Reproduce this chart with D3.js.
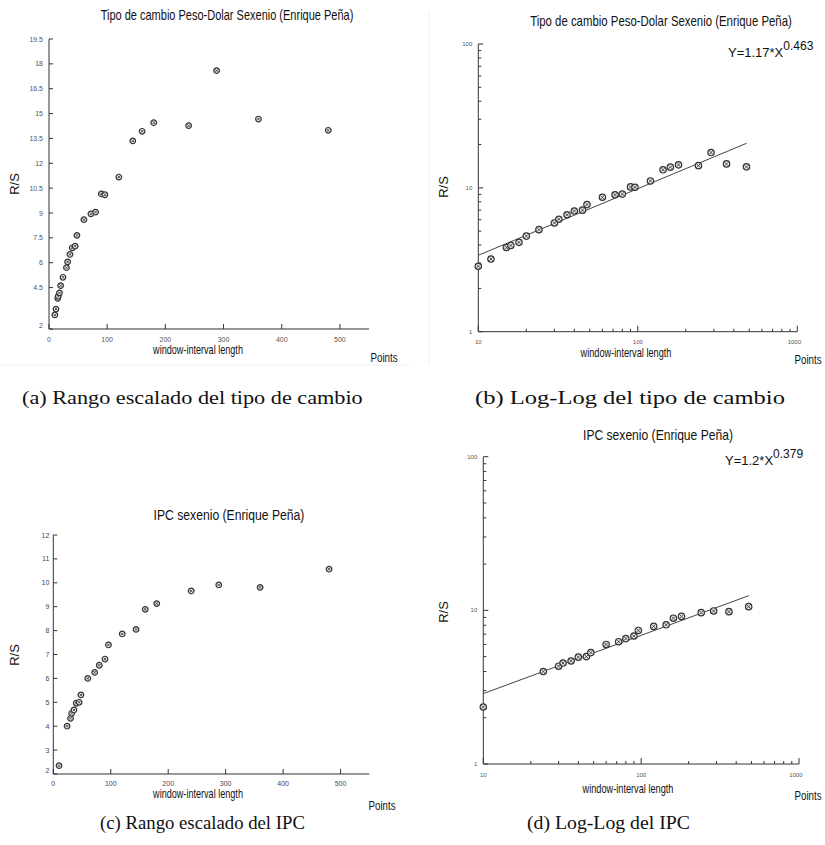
<!DOCTYPE html>
<html>
<head>
<meta charset="utf-8">
<script src="https://cdn.jsdelivr.net/npm/d3@7"></script>
<style>
  body { margin: 0; background: #fff; }
  svg { display: block; }
  text { font-family: "Liberation Sans", Arial, sans-serif; }
  text.cap { font-family: "Liberation Serif", "DejaVu Serif", serif; }
</style>
</head>
<body>
<svg id="chart" width="825" height="845"></svg>
<script>
'use strict';

// window sizes (n) and R/S values
var windowPeso = [10, 12, 15, 16, 18, 20, 24, 30, 32, 36, 40, 45, 48, 60, 72, 80, 90, 96, 120, 144, 160, 180, 240, 288, 360, 480];
var rsPeso = [2.85, 3.2, 3.85, 3.98, 4.18, 4.62, 5.12, 5.7, 6.05, 6.5, 6.9, 7.0, 7.65, 8.6, 8.95, 9.05, 10.15, 10.1, 11.17, 13.35, 13.93, 14.45, 14.27, 17.59, 14.67, 13.99];

var windowIpc = [10, 24, 30, 32, 36, 40, 45, 48, 60, 72, 80, 90, 96, 120, 144, 160, 180, 240, 288, 360, 480];
var rsIpc = [2.35, 4.0, 4.33, 4.54, 4.68, 4.96, 5.0, 5.31, 6.0, 6.25, 6.55, 6.81, 7.4, 7.86, 8.05, 8.89, 9.13, 9.66, 9.91, 9.81, 10.57];

// fitted power laws Y = a * X^b
var fitPeso = [1.17, 0.463];
var fitIpc = [1.2, 0.379];
var fitSpan = [10, 480];

// tick labels
var pesoTicks = [2, 4.5, 6, 7.5, 9, 10.5, 12, 13.5, 15, 16.5, 18, 19.5];
var ipcTicks = [2, 3, 4, 5, 6, 7, 8, 9, 10, 11, 12];
var linXTicks = [0, 100, 200, 300, 400, 500];
var logMajor = [1, 10, 100, 1000];

var titlePeso = 'Tipo de cambio Peso-Dolar Sexenio (Enrique Peña)';
var titleIpc = 'IPC sexenio (Enrique Peña)';
var captions = ['(a) Rango escalado del tipo de cambio', '(b) Log-Log del tipo de cambio',
                '(c) Rango escalado del IPC', '(d) Log-Log del IPC'];

var svg = d3.select('#chart');
var ink = '#333';

// text squeezed horizontally to a given width (the source image is condensed)
function label(g, str, x, y, size, len, anchor, color, cls) {
  var t = g.append('text')
    .attr('class', cls || null)
    .attr('transform', 'translate(' + x + ',' + y + ')')
    .attr('font-size', size)
    .attr('fill', color || '#111')
    .attr('text-anchor', anchor || 'start')
    .text(str);
  if (len) {
    var w = t.node().getComputedTextLength();
    t.attr('transform', 'translate(' + x + ',' + y + ') scale(' + (len / w) + ',1)');
  }
  return t;
}

function vlabel(g, str, x, y, size) {
  g.append('text')
    .attr('transform', 'translate(' + x + ',' + y + ') rotate(-90)')
    .attr('font-size', size)
    .attr('fill', '#111')
    .attr('text-anchor', 'middle')
    .text(str);
}

function markers(g, xs, ys, xv, yv, r) {
  var pts = g.append('g').selectAll('g').data(xv).enter().append('g')
    .attr('transform', function (d, i) { return 'translate(' + xs(d) + ',' + ys(yv[i]) + ')'; });
  pts.append('circle').attr('r', r).attr('fill', '#e4e4e4').attr('stroke', '#333').attr('stroke-width', 1.2);
  var k = r * 0.5;
  pts.append('path').attr('d', 'M' + (-k) + ',' + (-k) + 'L' + k + ',' + k + 'M' + k + ',' + (-k) + 'L' + (-k) + ',' + k)
    .attr('stroke', '#444').attr('stroke-width', 0.9);
}

function linearPanel(p) {
  var g = svg.append('g');
  var xs = d3.scaleLinear().domain([0, 550]).range([p.x0, p.x1]);
  var ys = d3.scaleLinear().domain([p.yTicks[0], p.yTicks[p.yTicks.length - 1]]).range([p.yb, p.yt]);

  g.append('path').attr('d', 'M' + p.x0 + ',' + p.yt + 'V' + p.yb + 'H' + p.x1)
    .attr('fill', 'none').attr('stroke', ink).attr('stroke-width', 1);

  p.yTicks.forEach(function (v, i) {
    g.append('line').attr('x1', p.x0).attr('x2', p.x0 + 4).attr('y1', ys(v)).attr('y2', ys(v))
      .attr('stroke', ink);
    var off = i === 0 ? -4 : 0;
    label(g, String(v), p.x0 - p.lgap, ys(v) + 2.5 + off, 7, null, 'end', p.tickColor);
  });
  linXTicks.forEach(function (v) {
    g.append('line').attr('x1', xs(v)).attr('x2', xs(v)).attr('y1', p.yb).attr('y2', p.yb - 5)
      .attr('stroke', ink);
    label(g, String(v), xs(v), p.xlabY, 7, null, 'middle', p.tickColor);
  });

  markers(g, xs, ys, p.xv, p.yv, 2.8);

  label(g, p.title, p.titleX, p.titleY, 14, p.titleLen, 'middle');
  label(g, 'window-interval length', p.axX, p.axY, 13, 90, 'middle');
  label(g, 'Points', p.ptX, p.ptY, 13, 27, 'middle');
  vlabel(g, 'R/S', p.rsX, p.rsY, 13);
}

function logPanel(p) {
  var g = svg.append('g');
  var xs = d3.scaleLog().domain([10, 1000]).range([p.x0, p.x1]);
  var ys = d3.scaleLog().domain([1, 100]).range([p.yb, p.yt]);

  g.append('path').attr('d', 'M' + p.x0 + ',' + p.yt + 'V' + p.yb + 'H' + p.x1)
    .attr('fill', 'none').attr('stroke', ink).attr('stroke-width', 1);

  ys.ticks().forEach(function (v) {
    var major = logMajor.indexOf(v) >= 0;
    g.append('line').attr('x1', p.x0).attr('x2', p.x0 + (major ? 5 : 3)).attr('y1', ys(v)).attr('y2', ys(v))
      .attr('stroke', ink);
    if (major) label(g, String(v), p.x0 - 6, ys(v) + 2, 6, null, 'end', '#555');
  });
  xs.ticks().forEach(function (v) {
    var major = logMajor.indexOf(v) >= 0;
    g.append('line').attr('x1', xs(v)).attr('x2', xs(v)).attr('y1', p.yb).attr('y2', p.yb - (major ? 6 : 3))
      .attr('stroke', ink);
    if (major) label(g, String(v), xs(v) - (v === 1000 ? 3 : 0), p.xlabY, 6, null, 'middle', '#555');
  });

  var fitPts = fitSpan.map(function (x) { return [xs(x), ys(p.fit[0] * Math.pow(x, p.fit[1]))]; });
  g.append('path').attr('d', d3.line()(fitPts)).attr('stroke', '#444').attr('stroke-width', 1).attr('fill', 'none');

  markers(g, xs, ys, p.xv, p.yv, 3.2);

  label(g, p.title, p.titleX, p.titleY, 14, p.titleLen, 'middle');
  var eq = label(g, 'Y=' + p.fit[0] + '*X', p.eqX, p.eqY, 13, null, 'start');
  eq.append('tspan').attr('dy', -7).attr('font-size', 12).text(String(p.fit[1]));
  label(g, 'window-interval length', p.axX, p.axY, 13, 91, 'middle');
  label(g, 'Points', p.ptX, p.ptY, 13, 27, 'middle');
  vlabel(g, 'R/S', p.rsX, p.rsY, 13);
}

// faint sub-figure borders
svg.append('line').attr('x1', 0).attr('x2', 410).attr('y1', 365).attr('y2', 365).attr('stroke', '#f0f0f0');
svg.append('line').attr('x1', 429).attr('x2', 429).attr('y1', 12).attr('y2', 365).attr('stroke', '#eeeeee');

linearPanel({
  x0: 49, x1: 369, yb: 329, yt: 39, yTicks: pesoTicks, lgap: 6, tickColor: '#555', xlabY: 342,
  xv: windowPeso, yv: rsPeso,
  title: titlePeso, titleX: 227, titleY: 20, titleLen: 253,
  axX: 198, axY: 354, ptX: 384, ptY: 362, rsX: 19, rsY: 184
});

logPanel({
  x0: 478.3, x1: 797.3, yb: 331.7, yt: 44, xlabY: 344,
  xv: windowPeso, yv: rsPeso, fit: fitPeso,
  title: titlePeso, titleX: 661, titleY: 26, titleLen: 262,
  eqX: 728, eqY: 57,
  axX: 626, axY: 357, ptX: 808, ptY: 364, rsX: 448, rsY: 187
});

linearPanel({
  x0: 53.3, x1: 369.3, yb: 774, yt: 535, yTicks: ipcTicks, lgap: 4, tickColor: '#4d3d60', xlabY: 786,
  xv: windowIpc, yv: rsIpc,
  title: titleIpc, titleX: 229, titleY: 520, titleLen: 151,
  axX: 198, axY: 798, ptX: 382, ptY: 810, rsX: 19, rsY: 655
});

logPanel({
  x0: 483.3, x1: 799, yb: 764, yt: 456.7, xlabY: 777,
  xv: windowIpc, yv: rsIpc, fit: fitIpc,
  title: titleIpc, titleX: 658, titleY: 440, titleLen: 150,
  eqX: 725, eqY: 465,
  axX: 628, axY: 793, ptX: 808, ptY: 800, rsX: 448, rsY: 612
});

// sub-figure captions
var capPos = [[22, 404, 341], [475, 404, 310], [100, 829, 205], [527, 829, 163]];
captions.forEach(function (c, i) {
  label(svg, c, capPos[i][0], capPos[i][1], 19, capPos[i][2], 'start', '#111', 'cap');
});
</script>
</body>
</html>
